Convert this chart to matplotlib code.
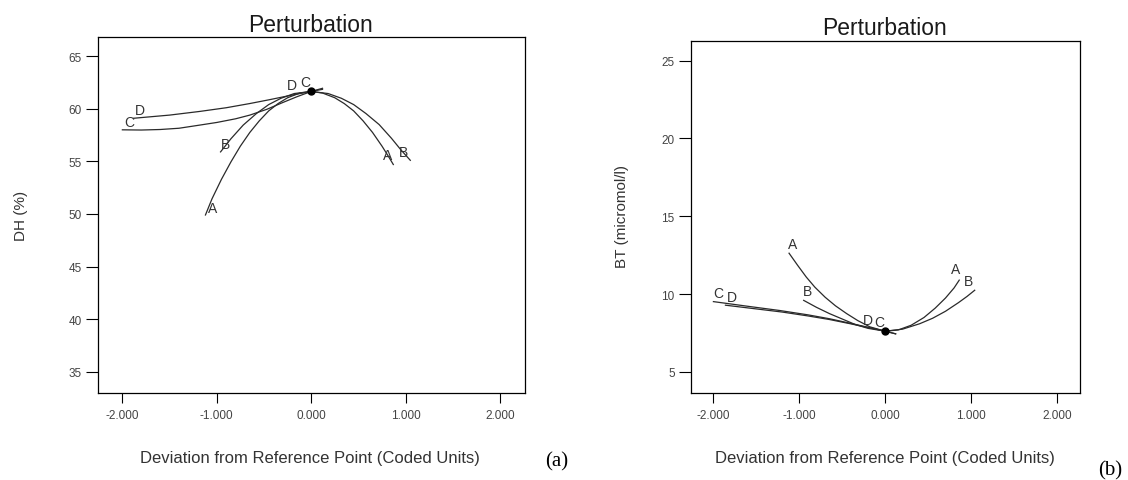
import matplotlib
matplotlib.use("Agg")
import matplotlib.pyplot as plt

plt.rcParams["font.family"] = ["Liberation Sans", "DejaVu Sans"]

W, H = 1128, 481

# ---- panel (a): DH (%) ----
dh_ref = (0.0, 61.65)
dh_a_x = [-1.12, -1.05, -0.95, -0.85, -0.75, -0.65, -0.55, -0.45, -0.35, -0.25, -0.12, 0.0,
          0.12, 0.25, 0.35, 0.45, 0.55, 0.65, 0.75, 0.82, 0.87]
dh_a_y = [49.9, 51.45, 53.3, 54.95, 56.45, 57.75, 58.85, 59.8, 60.5, 61.05, 61.5, 61.65,
          61.5, 61.05, 60.5, 59.8, 58.85, 57.75, 56.45, 55.45, 54.7]
dh_b_x = [-0.96, -0.85, -0.72, -0.58, -0.45, -0.32, -0.18, 0.0, 0.18, 0.32, 0.45, 0.58,
          0.72, 0.85, 0.95, 1.05]
dh_b_y = [55.9, 57.15, 58.45, 59.55, 60.4, 61.0, 61.45, 61.65, 61.45, 61.0, 60.4, 59.55,
          58.5, 57.2, 56.1, 55.1]
dh_c_x = [-2.0, -1.8, -1.6, -1.4, -1.18, -1.0, -0.8, -0.65, -0.47, -0.3, -0.15, 0.0, 0.12]
dh_c_y = [58.0, 57.98, 58.03, 58.15, 58.45, 58.7, 59.05, 59.4, 59.95, 60.6, 61.15, 61.65, 61.95]
dh_d_x = [-1.88, -1.5, -1.18, -0.9, -0.65, -0.45, -0.26, -0.12, 0.0, 0.12]
dh_d_y = [59.1, 59.4, 59.75, 60.1, 60.5, 60.85, 61.2, 61.45, 61.65, 61.85]

# ---- panel (b): BT (micromol/l) ----
bt_ref = (0.0, 7.62)
bt_a_x = [-1.12, -1.02, -0.92, -0.82, -0.70, -0.58, -0.45, -0.32, -0.18, 0.0, 0.15, 0.30,
          0.45, 0.58, 0.70, 0.80, 0.86]
bt_a_y = [12.63, 11.85, 11.1, 10.45, 9.8, 9.25, 8.75, 8.3, 7.9, 7.62, 7.7, 8.0,
          8.5, 9.1, 9.75, 10.4, 10.9]
bt_b_x = [-0.95, -0.80, -0.65, -0.50, -0.35, -0.20, 0.0, 0.20, 0.40, 0.55, 0.70, 0.85,
          0.95, 1.04]
bt_b_y = [9.6, 9.15, 8.75, 8.4, 8.05, 7.8, 7.62, 7.75, 8.1, 8.45, 8.9, 9.45,
          9.85, 10.25]
bt_c_x = [-2.0, -1.60, -1.23, -0.90, -0.65, -0.40, -0.20, 0.0, 0.12]
bt_c_y = [9.52, 9.22, 8.95, 8.67, 8.42, 8.12, 7.87, 7.62, 7.45]
bt_d_x = [-1.86, -1.50, -1.20, -0.90, -0.65, -0.40, -0.20, 0.0, 0.12]
bt_d_y = [9.29, 9.05, 8.85, 8.6, 8.37, 8.09, 7.85, 7.62, 7.45]

x_ticks = [-2, -1, 0, 1, 2]
dh_ticks = [35, 40, 45, 50, 55, 60, 65]
bt_ticks = [5, 10, 15, 20, 25]

LINE = "#2a2a2a"
TXT = "#333333"


def fr(px, py):
    return px / W, 1 - py / H


def label(ax, txt, x, y, dx, dy):
    # offsets given in pixels, converted to points
    ax.annotate(txt, xy=(x, y), xytext=(dx * 0.72, dy * 0.72), textcoords="offset points",
                ha="center", va="center", fontsize=10, color=TXT)


def setup(ax, ylim, yticks):
    ax.set_xlim(-2.255, 2.265)
    ax.set_ylim(*ylim)
    ax.set_xticks(x_ticks)
    ax.set_xticklabels([f"{v:.3f}" for v in x_ticks])
    ax.set_yticks(yticks)
    ax.tick_params(axis="x", length=7.2, width=0.8, pad=4, labelsize=8.5, labelcolor="#444444")
    ax.tick_params(axis="y", length=8.6, width=0.8, pad=3.5, labelsize=8.5, labelcolor="#444444")
    for s in ax.spines.values():
        s.set_linewidth(0.9)
        s.set_color("black")


fig = plt.figure(figsize=(W / 100, H / 100), dpi=100)

# panel (a)
axa = fig.add_axes([98.3 / W, 1 - 394.3 / H, 426.7 / W, 356 / H])
setup(axa, (32.94, 66.8), dh_ticks)
for xs, ys in [(dh_a_x, dh_a_y), (dh_b_x, dh_b_y), (dh_c_x, dh_c_y), (dh_d_x, dh_d_y)]:
    axa.plot(xs, ys, color=LINE, lw=0.9)
axa.plot(*dh_ref, marker="o", color="black", ms=5)
label(axa, "A", dh_a_x[0], dh_a_y[0], 6.7, 6.7)
label(axa, "A", dh_a_x[-1], dh_a_y[-1], -6, 9.3)
label(axa, "B", dh_b_x[0], dh_b_y[0], 5, 8)
label(axa, "B", dh_b_x[-1], dh_b_y[-1], -6.7, 8.3)
label(axa, "C", dh_c_x[0], dh_c_y[0], 6.7, 8.3)
label(axa, "D", dh_d_x[0], dh_d_y[0], 6, 8.3)
label(axa, "D", dh_ref[0], dh_ref[1], -19, 6.7)
label(axa, "C", dh_ref[0], dh_ref[1], -5.7, 9.3)

# panel (b)
axb = fig.add_axes([691.5 / W, 1 - 394 / H, 388.5 / W, 352 / H])
setup(axb, (3.65, 26.26), bt_ticks)
for xs, ys in [(bt_a_x, bt_a_y), (bt_b_x, bt_b_y), (bt_c_x, bt_c_y), (bt_d_x, bt_d_y)]:
    axb.plot(xs, ys, color=LINE, lw=0.9)
axb.plot(*bt_ref, marker="o", color="black", ms=5)
label(axb, "A", bt_a_x[0], bt_a_y[0], 4, 9)
label(axb, "A", bt_a_x[-1], bt_a_y[-1], -4, 11)
label(axb, "B", bt_b_x[0], bt_b_y[0], 4, 9.3)
label(axb, "B", bt_b_x[-1], bt_b_y[-1], -6, 9.3)
label(axb, "C", bt_c_x[0], bt_c_y[0], 5, 8.3)
label(axb, "D", bt_d_x[0], bt_d_y[0], 6, 7.7)
label(axb, "D", bt_ref[0], bt_ref[1], -17.7, 11.3)
label(axb, "C", bt_ref[0], bt_ref[1], -6, 9)

# titles, axis labels, panel tags
for cx, ty, ly, ylx, ylab, tag, tagpos in [
    (310, 25, 459, 21, "DH (%)", "(a)", (557, 462)),
    (885, 29, 459, 622, "BT (micromol/l)", "(b)", (1110, 471)),
]:
    fig.text(*fr(cx, ty), "Perturbation", ha="center", va="center", fontsize=16.5, color="#1a1a1a")
    fig.text(*fr(cx, ly), "Deviation from Reference Point (Coded Units)", ha="center", va="center",
             fontsize=12, color=TXT)
    fig.text(*fr(ylx, 216), ylab, ha="center", va="center", rotation=90, fontsize=11, color=TXT)
    fig.text(*fr(*tagpos), tag, ha="center", va="center", fontsize=15, color="black",
             family=["Liberation Serif", "DejaVu Serif"])

fig.savefig("out.png", dpi=100)
